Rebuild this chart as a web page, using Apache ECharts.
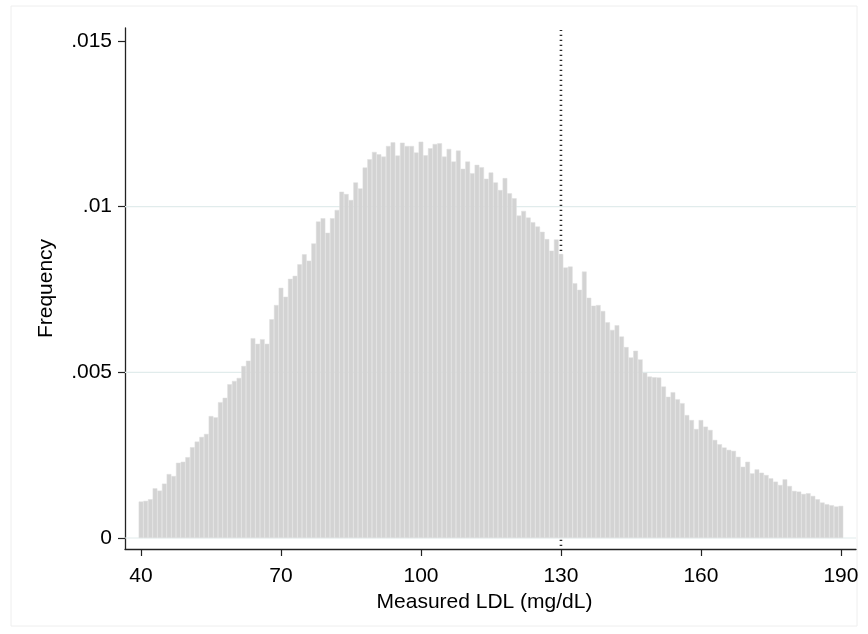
<!DOCTYPE html>
<html>
<head>
<meta charset="utf-8">
<script src="https://cdn.jsdelivr.net/npm/echarts@6/dist/echarts.min.js"></script>
<style>html,body{margin:0;padding:0;background:#fff;}#c{width:868px;height:634px;}</style>
</head>
<body>
<div id="c"></div>
<script>
// Bin centers (mg/dL)
var ldlBins = [40,41,42,43,44,45,46,47,48,49,50,51,52,53,54,55,56,57,58,59,60,61,62,63,64,65,66,67,68,69,70,71,72,73,74,75,76,77,78,79,80,81,82,83,84,85,86,87,88,89,90,91,92,93,94,95,96,97,98,99,100,101,102,103,104,105,106,107,108,109,110,111,112,113,114,115,116,117,118,119,120,121,122,123,124,125,126,127,128,129,130,131,132,133,134,135,136,137,138,139,140,141,142,143,144,145,146,147,148,149,150,151,152,153,154,155,156,157,158,159,160,161,162,163,164,165,166,167,168,169,170,171,172,173,174,175,176,177,178,179,180,181,182,183,184,185,186,187,188,189,190];
// Frequency (density) per bin
var frequency = [
0.00110,0.00112,0.00117,0.00150,0.00143,0.00164,0.00193,0.00187,0.00227,0.00230,
0.00244,0.00274,0.00291,0.00305,0.00314,0.00368,0.00364,0.00410,0.00423,0.00464,
0.00474,0.00483,0.00519,0.00535,0.00603,0.00586,0.00600,0.00586,0.00660,0.00703,
0.00755,0.00728,0.00782,0.00791,0.00826,0.00856,0.00837,0.00889,0.00955,0.00965,
0.00921,0.00965,0.00990,0.01045,0.01038,0.01020,0.01073,0.01055,0.01118,0.01143,
0.01165,0.01158,0.01151,0.01183,0.01194,0.01154,0.01193,0.01183,0.01183,0.01163,
0.01196,0.01155,0.01176,0.01189,0.01191,0.01151,0.01174,0.01136,0.01169,0.01114,
0.01136,0.01101,0.01126,0.01119,0.01084,0.01103,0.01073,0.01050,0.01086,0.01040,
0.01025,0.00973,0.00987,0.00967,0.00953,0.00940,0.00924,0.00902,0.00867,0.00901,
0.00857,0.00816,0.00819,0.00769,0.00749,0.00804,0.00725,0.00701,0.00703,0.00685,
0.00651,0.00628,0.00642,0.00608,0.00576,0.00545,0.00565,0.00539,0.00499,0.00487,
0.00485,0.00484,0.00457,0.00426,0.00440,0.00419,0.00407,0.00371,0.00356,0.00329,
0.00356,0.00336,0.00326,0.00296,0.00283,0.00273,0.00266,0.00263,0.00245,0.00215,
0.00230,0.00195,0.00207,0.00197,0.00190,0.00180,0.00170,0.00160,0.00177,0.00157,
0.00142,0.00140,0.00133,0.00135,0.00127,0.00117,0.00107,0.00102,0.00099,0.00095,
0.00097];
var xTicks = [40, 70, 100, 130, 160, 190];
var xTickLabels = ['40', '70', '100', '130', '160', '190'];
var yTicks = [0, 0.005, 0.01, 0.015];
var yTickLabels = ['0', '.005', '.01', '.015'];
var gridLineValues = [0, 0.005, 0.01];
var cutoff = 130;
var xRange = [36.57, 193.23];
var yRange = [-0.000332, 0.01539];
var cutoffLineRange = [-0.00024, 0.01533];

var barData = ldlBins.map(function (b, i) { return [b, frequency[i]]; });

var FONT = 'Liberation Sans, Arial, Helvetica, sans-serif';
var FS = 21;
var series = [];
gridLineValues.forEach(function (g) {
  series.push({
    type: 'line', silent: true, symbol: 'none', z: 0,
    lineStyle: { color: '#e1ecec', width: 1.2 },
    data: [[xRange[0], g], [xRange[1], g]]
  });
});
series.push({
  type: 'line', silent: true, symbol: 'none', z: 1,
  lineStyle: { color: '#2a2a2a', width: 2.6, type: [1.3, 3.7] },
  data: [[cutoff, cutoffLineRange[0]], [cutoff, cutoffLineRange[1]]]
});
series.push({
  type: 'bar', z: 2, barWidth: 4.667, silent: true,
  itemStyle: { color: '#d3d3d3', borderColor: '#dfdfdf', borderWidth: 0.5 },
  data: barData
});

var chart = echarts.init(document.getElementById('c'));
chart.setOption({
  animation: false,
  backgroundColor: '#fff',
  graphic: [{
    type: 'rect', shape: { x: 11, y: 6, width: 846, height: 620 },
    style: { fill: 'none', stroke: '#eeeeee', lineWidth: 1 }, z: -1
  }],
  grid: { left: 125, right: 12, top: 28, bottom: 85 },
  xAxis: {
    type: 'value', min: xRange[0], max: xRange[1],
    name: 'Measured LDL (mg/dL)', nameLocation: 'middle', nameGap: 43,
    nameTextStyle: { fontFamily: FONT, fontSize: FS, color: '#000', padding: [0, 12, 0, 0] },
    axisLine: { onZero: false, lineStyle: { color: '#222', width: 1.3 } },
    axisTick: { show: true, length: 7, customValues: xTicks, lineStyle: { color: '#222', width: 1.2 } },
    axisLabel: {
      customValues: xTicks, margin: 17, fontFamily: FONT, fontSize: FS, color: '#000',
      formatter: function (v) { var i = xTicks.indexOf(v); return i >= 0 ? xTickLabels[i] : ''; }
    },
    splitLine: { show: false }
  },
  yAxis: {
    type: 'value', min: yRange[0], max: yRange[1],
    name: 'Frequency', nameLocation: 'middle', nameGap: 68,
    nameTextStyle: { fontFamily: FONT, fontSize: FS, color: '#000' },
    axisLine: { show: true, onZero: false, lineStyle: { color: '#222', width: 1.3 } },
    axisTick: { show: true, length: 7, customValues: yTicks, lineStyle: { color: '#222', width: 1.2 } },
    axisLabel: {
      customValues: yTicks, margin: 13, fontFamily: FONT, fontSize: FS, color: '#000',
      formatter: function (v) {
        for (var i = 0; i < yTicks.length; i++) { if (Math.abs(yTicks[i] - v) < 1e-9) return yTickLabels[i]; }
        return '';
      }
    },
    splitLine: { show: false }
  },
  series: series
});
</script>
</body>
</html>
